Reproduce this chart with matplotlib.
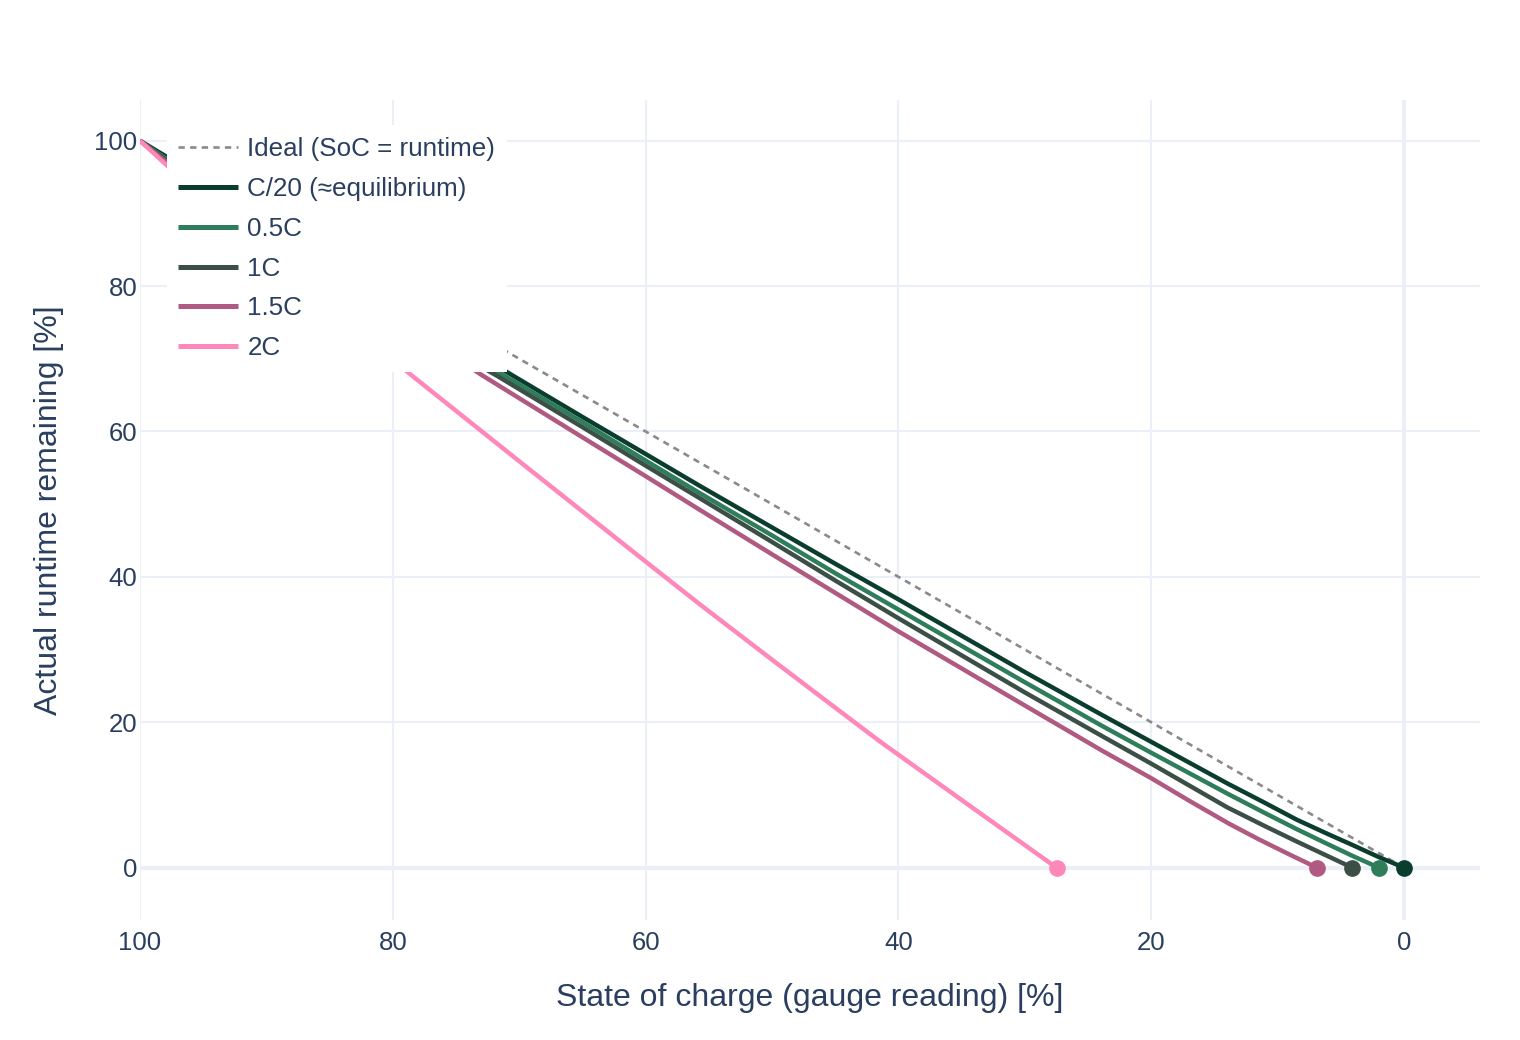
import matplotlib.pyplot as plt

plt.rcParams['font.family'] = ['Liberation Sans', 'DejaVu Sans']

# gauge reading (SoC) vs actual runtime remaining
ideal_soc = [100, 0]
ideal_rt = [100, 0]

c20_soc = [100, 98, 95, 90, 85, 80, 75, 71, 65, 60, 55.7, 50, 45, 40, 35, 30, 24, 20, 14, 11, 8.5, 6, 4, 2, 0]
c20_rt = [100, 97.9, 94.6, 89.2, 83.7, 78.2, 72.6, 68.2, 62.0, 56.9, 52.5, 46.8, 41.8, 36.9, 31.9, 26.9,
          21.1, 17.3, 11.6, 8.9, 6.6, 4.6, 3.05, 1.45, 0]

c05_soc = [100, 98, 95, 90, 85, 80, 75, 71, 65, 60, 55.7, 50, 45, 40, 35, 30, 24, 20, 14, 11, 8.5, 6, 4, 2]
c05_rt = [100, 97.6, 94.1, 88.6, 83.0, 77.4, 71.7, 67.5, 61.3, 56.0, 51.5, 45.7, 40.5, 35.5, 30.5, 25.5,
          19.6, 15.8, 10.2, 7.5, 5.3, 3.2, 1.55, 0]

c1_soc = [100, 98, 95, 90, 85, 80, 75, 71.7, 65, 60, 55.7, 50, 45, 40, 35, 30, 24, 20, 14, 11, 8.5, 6, 4.1]
c1_rt = [100, 97.4, 93.8, 88.1, 82.4, 76.6, 70.9, 67.6, 60.6, 55.3, 50.8, 44.8, 39.5, 34.3, 29.2, 24.1,
         18.2, 14.3, 8.3, 5.7, 3.6, 1.55, 0]

c15_soc = [100, 98, 95, 90, 85, 80, 76, 73, 65, 60, 55.7, 50, 45, 40, 35, 30, 24, 20, 17, 13.8, 11.5, 9, 6.9]
c15_rt = [100, 97.2, 93.5, 87.5, 81.6, 75.7, 71.3, 67.8, 59.2, 53.85, 49.2, 43.1, 37.8, 32.5, 27.4, 22.3,
          16.2, 12.3, 9.2, 6.0, 3.9, 1.75, 0]

c2_soc = [100, 98, 95, 90, 85, 80, 78.5, 70, 65, 60, 55.7, 50, 45, 41.5, 35, 30, 27.5]
c2_rt = [100, 96.8, 92.1, 84.6, 77.2, 69.9, 67.7, 55.9, 49.0, 42.1, 36.2, 28.6, 22.0, 17.4, 9.3, 3.1, 0]

series = [
    ('C/20 (≈equilibrium)', c20_soc, c20_rt, '#0b3d2e'),
    ('0.5C', c05_soc, c05_rt, '#2e7d5b'),
    ('1C', c1_soc, c1_rt, '#3b4f47'),
    ('1.5C', c15_soc, c15_rt, '#b05a82'),
    ('2C', c2_soc, c2_rt, '#ff88bb'),
]

text_color = '#2a3f5f'
grid_color = '#EBF0F8'

fig = plt.figure(figsize=(15.2, 10.4), dpi=100, facecolor='white')
ax = fig.add_axes([140 / 1520, 120 / 1040, 1340 / 1520, 820 / 1040])

ax.set_xlim(100, -6.0)
ax.set_ylim(-7.2, 105.6)
ax.set_xticks([100, 80, 60, 40, 20, 0])
ax.set_yticks([0, 20, 40, 60, 80, 100])
ax.grid(True, color=grid_color, linewidth=1.5, zorder=0)
ax.axhline(0, color=grid_color, linewidth=3, zorder=0.5)
ax.axvline(0, color=grid_color, linewidth=3, zorder=0.5)
ax.set_axisbelow(True)
for s in ax.spines.values():
    s.set_visible(False)
ax.tick_params(length=0, labelsize=18.5, labelcolor=text_color)
ax.tick_params(axis='x', pad=8)
ax.tick_params(axis='y', pad=2)

ax.plot(ideal_soc, ideal_rt, color='#8a8a8a', linewidth=1.9,
        linestyle=(0, (2.4, 2.0)), label='Ideal (SoC = runtime)', zorder=2)

for name, soc, rt, col in series:
    ax.plot(soc, rt, color=col, linewidth=3.2, label=name, zorder=3,
            solid_joinstyle='round', solid_capstyle='butt')
for name, soc, rt, col in series:
    ax.plot(soc[-1], rt[-1], 'o', color=col, markersize=11, zorder=4)

ax.set_xlabel('State of charge (gauge reading) [%]', fontsize=23, color=text_color, labelpad=20)
ax.set_ylabel('Actual runtime remaining [%]', fontsize=23, color=text_color, labelpad=22)

leg = ax.legend(loc='upper left', bbox_to_anchor=(0.02, 0.98 - 9 / 820), borderaxespad=0,
                fontsize=18.7, frameon=True, fancybox=False, framealpha=1,
                edgecolor='none', facecolor='white', handlelength=2.3,
                handletextpad=0.35, labelspacing=0.61, borderpad=0.45)
for t in leg.get_texts():
    t.set_color(text_color)
for h in leg.get_lines()[1:]:
    h.set_linewidth(3.6)
leg.set_zorder(10)

fig.savefig('out.png', dpi=100, facecolor='white')
